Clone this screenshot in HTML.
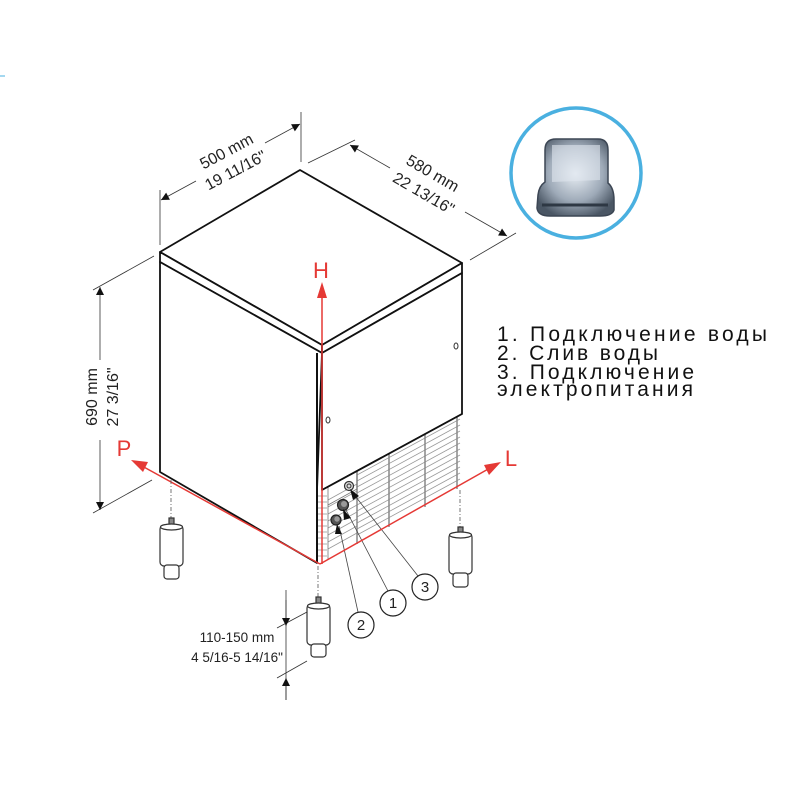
<!DOCTYPE html>
<html><head><meta charset="utf-8"><style>
html,body{margin:0;padding:0;background:#fff;width:800px;height:800px;overflow:hidden}
svg{display:block}
text{font-family:"Liberation Sans",sans-serif}
</style></head><body>
<svg width="800" height="800" viewBox="0 0 800 800" xmlns="http://www.w3.org/2000/svg">
<defs>
<radialGradient id="ice" cx="50%" cy="45%" r="60%">
<stop offset="0" stop-color="#e8eef4"/><stop offset="0.6" stop-color="#9eaab8"/><stop offset="1" stop-color="#4a5664"/>
</radialGradient>
<marker id="ab" viewBox="0 0 10 10" refX="10" refY="5" markerWidth="16" markerHeight="8" orient="auto-start-reverse" markerUnits="userSpaceOnUse"><path d="M0,0 L10,5 L0,10 z" fill="#111"/></marker>
</defs>
<line x1="0" y1="76" x2="5" y2="76" stroke="#4ab0e0" stroke-width="1"/>

<g stroke="#333" stroke-width="0.8" fill="none">
<line x1="160" y1="190" x2="160" y2="245"/>
<line x1="301" y1="112" x2="301" y2="162"/>
<line x1="308" y1="163" x2="355" y2="140"/>
<line x1="470" y1="260" x2="516" y2="233"/>
<line x1="93" y1="290" x2="154" y2="256"/>
<line x1="93" y1="513" x2="152" y2="480"/>
<line x1="286" y1="590" x2="286" y2="700"/>
<line x1="277" y1="628" x2="307" y2="612"/>
<line x1="277" y1="678" x2="307" y2="661"/>
</g>
<g stroke="#333" stroke-width="0.8" fill="none">
<line x1="161" y1="200" x2="196" y2="181" marker-start="url(#ab)"/>
<line x1="265" y1="143" x2="300" y2="124" marker-end="url(#ab)"/>
<line x1="350" y1="145" x2="390" y2="168" marker-start="url(#ab)"/>
<line x1="465" y1="212" x2="507" y2="236" marker-end="url(#ab)"/>
<line x1="100" y1="287" x2="100" y2="360" marker-start="url(#ab)"/>
<line x1="100" y1="440" x2="100" y2="510" marker-end="url(#ab)"/>
<line x1="286" y1="600" x2="286" y2="626" marker-end="url(#ab)"/>
<line x1="286" y1="700" x2="286" y2="678" marker-end="url(#ab)"/>
</g>
<g font-size="16" fill="#222" text-anchor="middle">
<text transform="translate(229,156) rotate(-28)">500 mm</text>
<text transform="translate(238,175) rotate(-28)">19 11/16"</text>
<text transform="translate(430,178) rotate(30)">580 mm</text>
<text transform="translate(421,198) rotate(30)">22 13/16"</text>
<text transform="translate(97,397) rotate(-90)">690 mm</text>
<text transform="translate(118,397) rotate(-90)">27 3/16"</text>
</g>
<g font-size="13.5" fill="#222" text-anchor="middle">
<text x="237" y="642">110-150 mm</text>
<text x="237" y="662">4 5/16-5 14/16"</text>
</g>

<g stroke="#111" stroke-width="1.8" fill="#fff" stroke-linejoin="round">
<polygon points="160,252 300,170 462,263 322,345"/>
<polygon points="160,252 322,345 322,353 160,262"/>
<polygon points="322,345 462,263 462,273 322,353"/>
<polygon points="160,262 322,353 317,490 317,563 160,472"/>
<polygon points="322,353 462,273 462,414 322,490"/>
</g>
<line x1="317" y1="353" x2="317" y2="563" stroke="#111" stroke-width="2"/>
<polygon points="322,490 462,414 462,487 322,563" fill="#fff" stroke="none"/>
<g stroke="#999" stroke-width="0.8">
<line x1="357" y1="475" x2="460" y2="419"/><line x1="357" y1="481" x2="460" y2="425"/>
<line x1="357" y1="487" x2="460" y2="431"/><line x1="357" y1="493" x2="460" y2="437"/>
<line x1="357" y1="499" x2="460" y2="443"/><line x1="357" y1="505" x2="460" y2="449"/>
<line x1="357" y1="511" x2="460" y2="455"/><line x1="357" y1="517" x2="460" y2="461"/>
<line x1="357" y1="523" x2="460" y2="467"/><line x1="357" y1="529" x2="460" y2="473"/>
<line x1="357" y1="535" x2="460" y2="479"/>
<line x1="328" y1="500" x2="357" y2="484"/><line x1="328" y1="507" x2="357" y2="491"/>
<line x1="328" y1="514" x2="357" y2="498"/><line x1="328" y1="521" x2="357" y2="505"/>
<line x1="328" y1="528" x2="357" y2="512"/><line x1="328" y1="535" x2="357" y2="519"/>
<line x1="328" y1="542" x2="357" y2="526"/><line x1="328" y1="549" x2="357" y2="533"/>
</g>
<g stroke="#888" stroke-width="1.5">
<line x1="357" y1="471" x2="357" y2="544"/><line x1="389" y1="454" x2="389" y2="527"/>
<line x1="425" y1="434" x2="425" y2="507"/><line x1="457" y1="416" x2="457" y2="489"/>
</g>
<polyline points="328,487 357,471 357,489 328,505" fill="none" stroke="#777" stroke-width="0.8"/>
<line x1="328" y1="487" x2="328" y2="560" stroke="#777" stroke-width="0.8"/>
<g stroke="#999" stroke-width="0.8">
<line x1="318" y1="496" x2="327" y2="496"/><line x1="318" y1="502" x2="327" y2="502"/>
<line x1="318" y1="508" x2="327" y2="508"/><line x1="318" y1="514" x2="327" y2="514"/>
<line x1="318" y1="520" x2="327" y2="520"/><line x1="318" y1="526" x2="327" y2="526"/>
<line x1="318" y1="532" x2="327" y2="532"/><line x1="318" y1="538" x2="327" y2="538"/>
<line x1="318" y1="544" x2="327" y2="544"/><line x1="318" y1="550" x2="327" y2="550"/>
<line x1="318" y1="556" x2="327" y2="556"/>
</g>
<line x1="322" y1="490" x2="462" y2="414" stroke="#111" stroke-width="1.8"/>
<ellipse cx="328" cy="420" rx="2" ry="3" fill="none" stroke="#333" stroke-width="1"/>
<ellipse cx="456" cy="346" rx="2" ry="3" fill="none" stroke="#333" stroke-width="1"/>
<circle cx="349" cy="486" r="4.5" fill="#ddd" stroke="#333" stroke-width="1.2"/><circle cx="349" cy="486" r="2" fill="none" stroke="#333"/>
<circle cx="343" cy="505" r="5.5" fill="#555" stroke="#222" stroke-width="1.2"/><circle cx="344" cy="504" r="3" fill="#999"/>
<circle cx="336" cy="520" r="5" fill="#555" stroke="#222" stroke-width="1.2"/><circle cx="337" cy="519" r="2.7" fill="#999"/>
<g stroke="#444" stroke-width="0.8">
<line x1="352" y1="492" x2="418" y2="576"/>
<line x1="346" y1="510" x2="388" y2="591"/>
<line x1="339" y1="526" x2="358" y2="612"/>
</g>
<g fill="#111">
<path d="M350,489 L359,496 L353,500 z"/>
<path d="M343,509 L351,518 L344,520 z"/>
<path d="M337,524 L342,534 L335,534 z"/>
</g>
<g fill="#fff" stroke="#222" stroke-width="1.2">
<circle cx="425" cy="587" r="13"/><circle cx="393" cy="603" r="13"/><circle cx="361" cy="625" r="13"/>
</g>
<g font-size="15" fill="#222" text-anchor="middle">
<text x="425" y="592">3</text><text x="393" y="608">1</text><text x="361" y="630">2</text>
</g>

<g stroke="#e53935" stroke-width="1.5" fill="none">
<line x1="320" y1="564" x2="142" y2="466"/>
<line x1="320" y1="564" x2="490" y2="468"/>
<line x1="322" y1="564" x2="322" y2="296"/>
</g>
<g fill="#e53935">
<path d="M131,460 L148,462 L143,472 z"/>
<path d="M501,462 L489,475 L484,465 z"/>
<path d="M322,282 L327,298 L317,298 z"/>
</g>
<g fill="#e53935" font-size="22" text-anchor="middle">
<text x="321" y="278">H</text>
<text x="124" y="456">P</text>
<text x="511" y="466">L</text>
</g>

<g stroke="#555" stroke-width="0.8" stroke-dasharray="4,2,1,2">
<line x1="171" y1="480" x2="171" y2="520"/>
<line x1="460" y1="490" x2="460" y2="530"/>
<line x1="318" y1="566" x2="318" y2="598"/>
</g>
<g fill="#fff" stroke="#333" stroke-width="1.2">
<rect x="169" y="518" width="5" height="8" fill="#888"/>
<rect x="160" y="525" width="23" height="41" rx="4"/>
<ellipse cx="171.5" cy="527" rx="11" ry="3"/>
<rect x="164" y="565" width="15" height="14" rx="3"/>
<rect x="458" y="527" width="5" height="8" fill="#888"/>
<rect x="449" y="533" width="23" height="41" rx="4"/>
<ellipse cx="460.5" cy="535" rx="11" ry="3"/>
<rect x="453" y="573" width="15" height="14" rx="3"/>
<rect x="316" y="597" width="5" height="8" fill="#888"/>
<rect x="307" y="604" width="23" height="41" rx="4"/>
<ellipse cx="318.5" cy="606" rx="11" ry="3"/>
<rect x="311" y="644" width="15" height="13" rx="3"/>
</g>

<circle cx="576" cy="173" r="65" fill="#fff" stroke="#4ab0e0" stroke-width="3.5"/>
<path d="M545,150 Q545,139 556,139 L598,139 Q608,139 608,150 L608,183 Q614,188 614,200 L614,210 Q612,216 600,216 L550,216 Q538,216 537,208 L538,195 Q539,186 545,182 z" fill="url(#ice)" stroke="#3c4654" stroke-width="1.5"/>
<path d="M552,145 L600,145 L600,180 L552,182 z" fill="#dfe6ee" opacity="0.6"/>
<path d="M542,205 L608,205" stroke="#2e3844" stroke-width="3"/>

<g font-size="21" fill="#111">
<text x="497" y="341" textLength="270" lengthAdjust="spacing">1. Подключение воды</text>
<text x="497" y="360" textLength="161" lengthAdjust="spacing">2. Слив воды</text>
<text x="497" y="379" textLength="197" lengthAdjust="spacing">3. Подключение</text>
<text x="497" y="396" textLength="196" lengthAdjust="spacing">электропитания</text>
</g>
</svg>
</body></html>
